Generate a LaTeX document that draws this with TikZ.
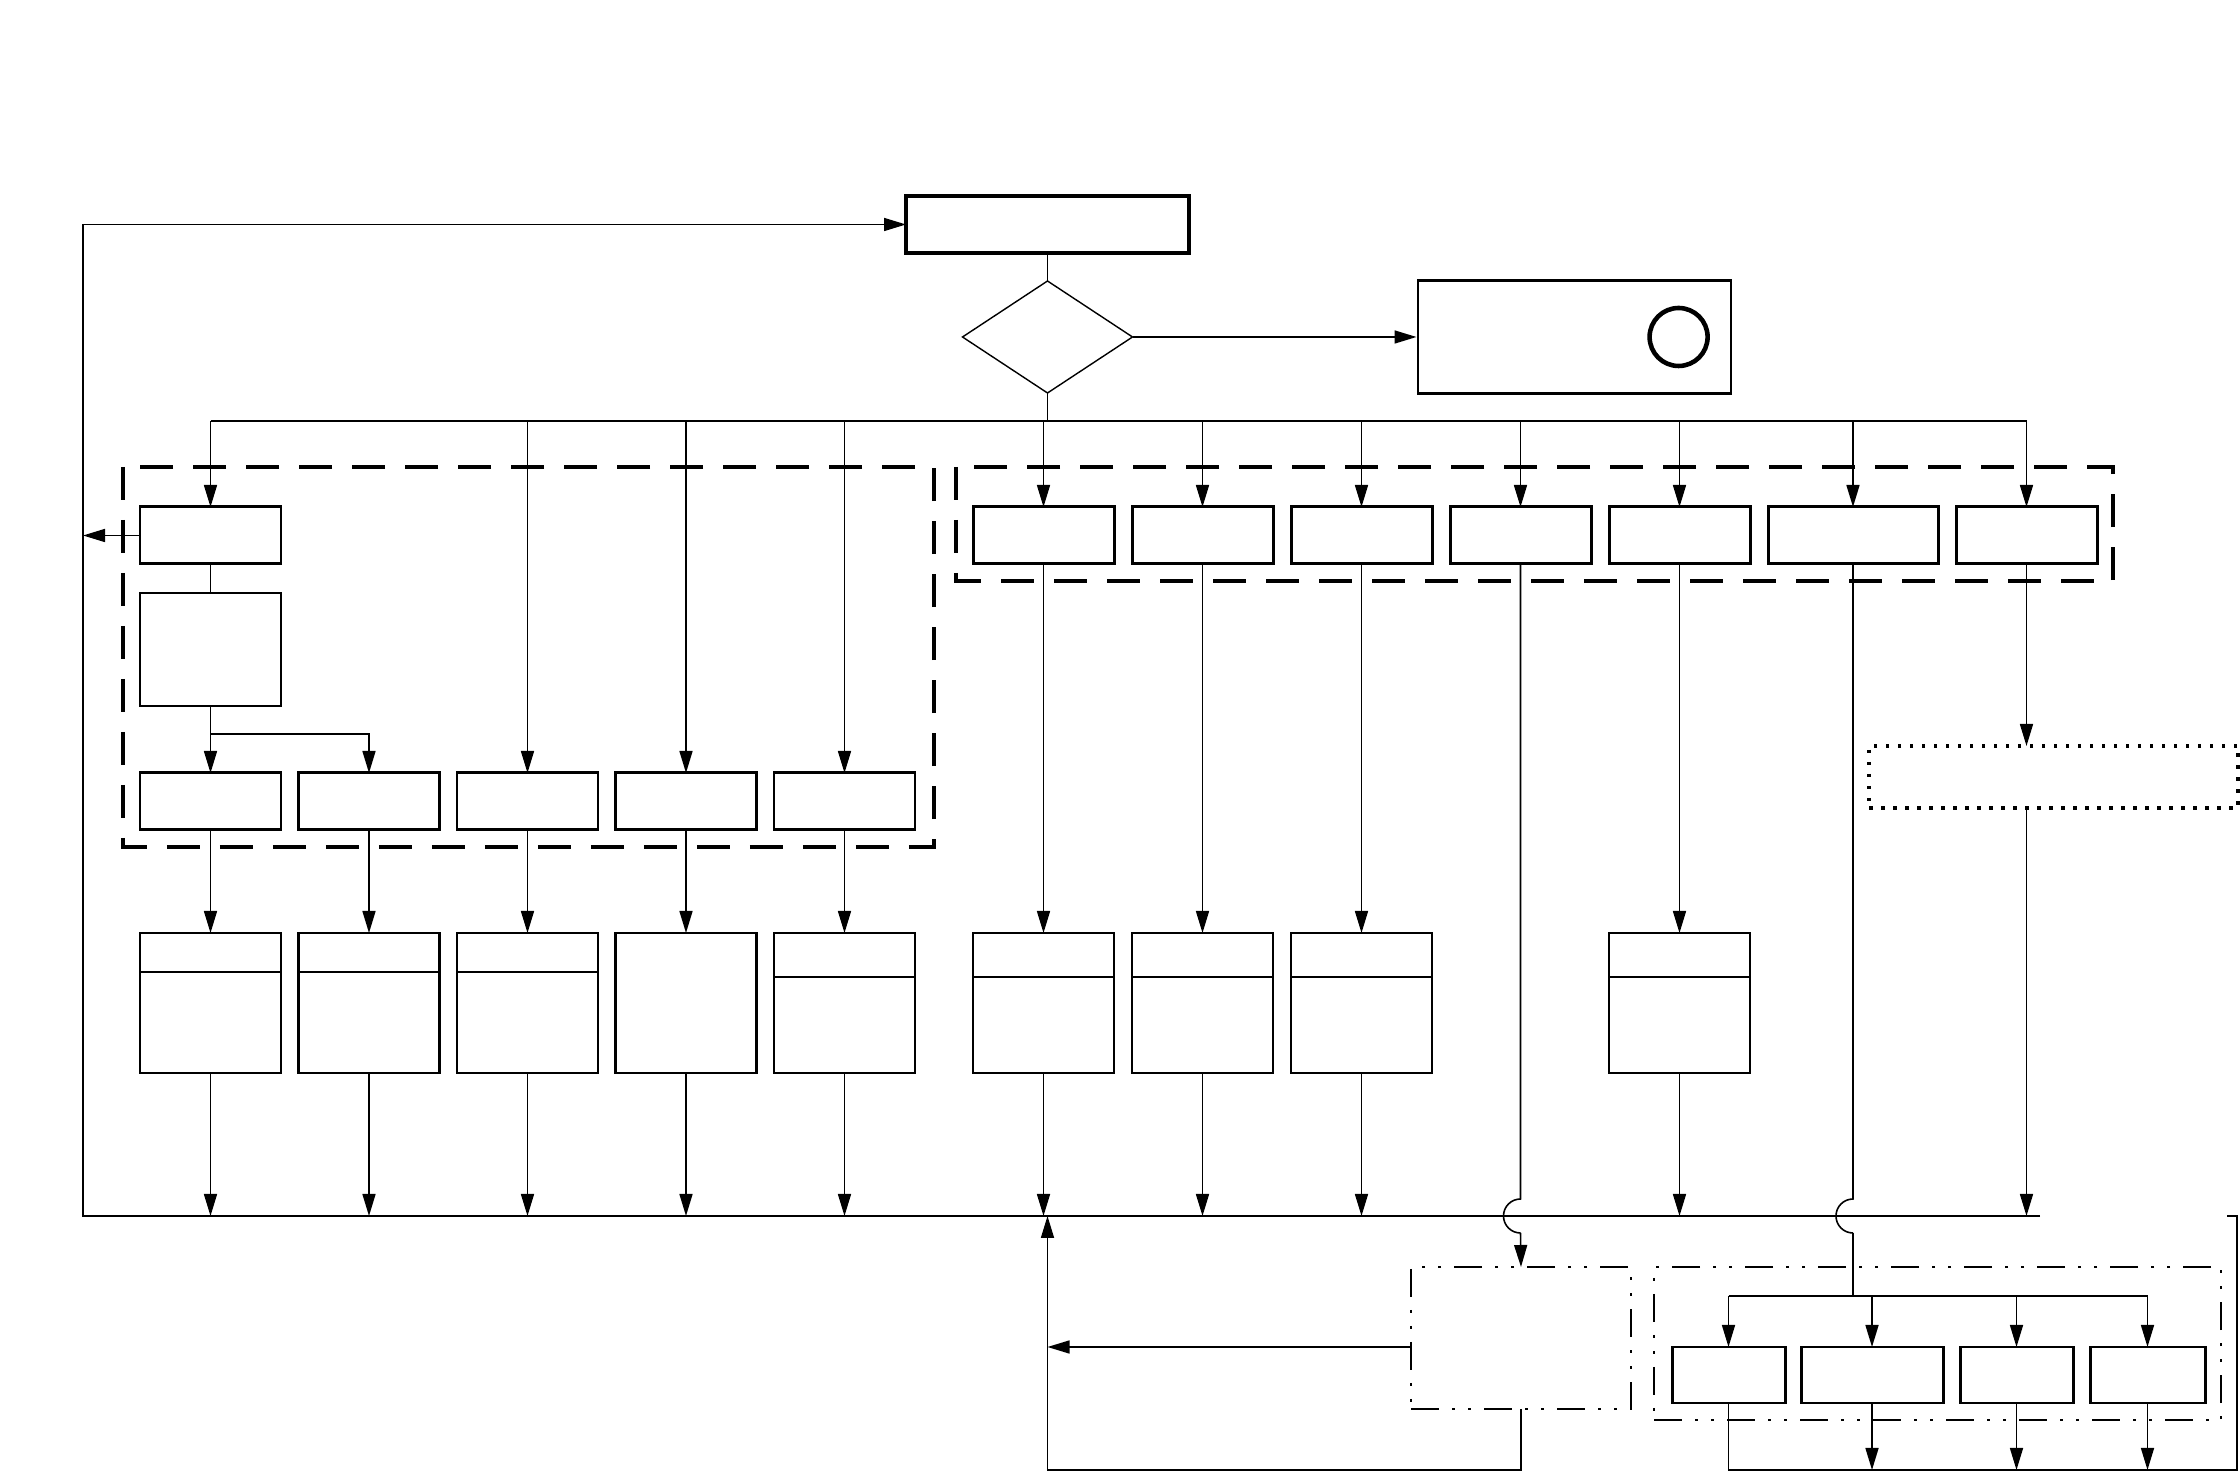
\documentclass[tikz,border=0pt]{standalone}
\usepackage{tikz}
\usetikzlibrary{shapes.geometric, arrows.meta, positioning, calc}
\tikzstyle{block}=[rectangle, draw, line width=0.85pt, minimum width=14.1mm,
  minimum height=5.7mm, inner sep=0pt, outer sep=0pt]
\tikzstyle{splitbox}=[rectangle, draw, line width=0.6pt, minimum width=14.1mm,
  minimum height=14mm, inner sep=0pt, outer sep=0pt]
\tikzstyle{decision}=[diamond, draw, line width=0.4pt, minimum width=17mm,
  minimum height=11.2mm, inner sep=0pt, outer sep=0pt]
\tikzstyle{arrow}=[-{Triangle[length=2.2mm, width=1.3mm]}, line width=0.45pt]
\tikzstyle{conn}=[line width=0.45pt]
\tikzstyle{groupdash}=[line width=1.4pt, dash pattern=on 3.3mm off 2mm]
\tikzstyle{groupdot}=[rectangle, draw, line width=1.2pt, dash pattern=on 0.35mm off 0.85mm,
  inner sep=0pt, outer sep=0pt]
\tikzstyle{groupdashdot}=[rectangle, draw, line width=0.5pt,
  dash pattern=on 2.8mm off 1.3mm on 0.3mm off 1.3mm on 0.3mm off 1.3mm,
  inner sep=0pt, outer sep=0pt]

\begin{document}
\begin{tikzpicture}[x=0.1mm, y=-0.1mm]
  \useasboundingbox (0,0) rectangle (2240,1472);
  % head
  \node[block, line width=1.3pt, minimum width=28.3mm] (entry) at (1047.5,224.5) {};
  \node[decision, below=2.8mm of entry] (check) {};
  \node[rectangle, draw, line width=0.6pt, minimum width=31.3mm, minimum height=11.3mm,
    inner sep=0pt, right=28.4mm of check] (alarm) {};
  \node[circle, draw, line width=1.3pt, minimum size=5.8mm, inner sep=0pt]
    (ring) at ([xshift=-5.3mm]alarm.east) {};
  \coordinate (split) at (1047.5,421);
  \coordinate (busL) at (83,1216);
  \coordinate (busR) at (2040,1216);
  \coordinate (botR) at (2237,1470);
  \coordinate (stub) at (2227,1216);

  % left group
  \node[block] (l1) at (210.5,535.5) {};
  \node[splitbox, line width=0.5pt, minimum height=11.3mm, below=2.9mm of l1] (l2) {};
  \node[block, below=6.7mm of l2] (a1) {};
  \node[block, right=1.75mm of a1] (a2) {};
  \node[block, right=1.75mm of a2] (a3) {};
  \node[block, right=1.75mm of a3] (a4) {};
  \node[block, right=1.75mm of a4] (a5) {};
  \node[splitbox, below=10.3mm of a1] (b1) {};
  \node[splitbox, below=10.3mm of a2] (b2) {};
  \node[splitbox, below=10.3mm of a3] (b3) {};
  \node[splitbox, below=10.3mm of a4] (b4) {};
  \node[splitbox, below=10.3mm of a5] (b5) {};
  \draw[groupdash] (123,467) rectangle (934,847);

  % right group
  \node[block] (r1) at (1043.5,535.5) {};
  \node[block, right=1.8mm of r1] (r2) {};
  \node[block, right=1.8mm of r2] (r3) {};
  \node[block, right=1.8mm of r3] (r4) {};
  \node[block, right=1.8mm of r4] (r5) {};
  \node[block, minimum width=17mm, right=1.8mm of r5] (r6) {};
  \node[block, right=1.8mm of r6] (r7) {};
  \node[splitbox, below=36.9mm of r1] (c1) {};
  \node[splitbox, below=36.9mm of r2] (c2) {};
  \node[splitbox, below=36.9mm of r3] (c3) {};
  \node[splitbox, below=36.9mm of r5] (c5) {};
  \draw[groupdash] (956,467) rectangle (2113,581);
  \node[groupdot, minimum width=36.9mm, minimum height=6.2mm] (hold) at (2053.5,777) {};

  % lower right
  \node[groupdashdot, minimum width=22mm, minimum height=14.2mm] (relay) at (1521,1338) {};
  \node[groupdashdot, minimum width=56.7mm, minimum height=15.3mm] (fanbox) at (1937.5,1343.5) {};
  \node[block, minimum width=11.3mm, minimum height=5.6mm] (d1) at (1728.5,1375) {};
  \node[block, minimum width=14.2mm, minimum height=5.6mm, right=1.6mm of d1] (d2) {};
  \node[block, minimum width=11.3mm, minimum height=5.6mm, right=1.7mm of d2] (d3) {};
  \node[block, minimum width=11.5mm, minimum height=5.6mm, right=1.7mm of d3] (d4) {};
  \coordinate (fan) at (r6.south |- {0,1296});

  % split lines
  \foreach \n/\h in {b1/39, b2/39, b3/39, b5/44, c1/44, c2/44, c3/44, c5/44}
    \draw[line width=0.6pt] ($(\n.north west)+(0,\h)$) -- ($(\n.north east)+(0,\h)$);

  % connectors
  \draw[conn] (entry) -- (check);
  \draw[arrow] (check.east) -- (alarm.west);
  \draw[conn] (check.south) -- (split);
  \draw[conn] (l1.north |- split) -- (r7.north |- split);
  \foreach \n in {l1,a3,a4,a5,r1,r2,r3,r4,r5,r6,r7}
    \draw[arrow] (\n.north |- split) -- (\n.north);
  \draw[conn] (l1) -- (l2);
  \draw[arrow] (l2.south) -- (a1.north);
  \draw[arrow] ($(l2.south)+(0,28)$) -| (a2.north);
  \foreach \n in {1,...,5}
    \draw[arrow] (a\n.south) -- (b\n.north);
  \foreach \n in {1,2,3,5}
    \draw[arrow] (r\n.south) -- (c\n.north);
  \foreach \n in {b1,b2,b3,b4,b5,c1,c2,c3,c5}
    \draw[arrow] (\n.south) -- (\n.south |- busL);
  \draw[arrow] (r7.south) -- (r7.south |- hold.north);
  \draw[arrow] (r7.south |- hold.south) -- (r7.south |- busL);
  \draw[arrow] (l1.west) -- (busL |- l1.west);
  \draw[arrow] (busR) -- (busL) |- (entry.west);

  % jumps over the return line
  \draw[conn] (r4.south) -- ($(r4.south |- busL)+(0,-17)$)
    arc[start angle=90, end angle=270, radius=1.7mm];
  \draw[arrow] ($(r4.south |- busL)+(0,17)$) -- (relay.north);
  \draw[conn] (r6.south) -- ($(r6.south |- busL)+(0,-17)$)
    arc[start angle=90, end angle=270, radius=1.7mm];
  \draw[conn] ($(r6.south |- busL)+(0,17)$) -- (fan);
  \draw[conn] (d1.north |- fan) -- (d4.north |- fan);
  \foreach \n in {1,...,4}
    \draw[arrow] (d\n.north |- fan) -- (d\n.north);

  % returns
  \draw[arrow] ($(relay.west)+(0,9)$) -- ($(check.south |- relay.west)+(0,9)$);
  \draw[arrow] (relay.south) -- (relay.south |- botR) -| (check.south |- busL);
  \draw[conn] (d1.south) -- (d1.south |- botR) -- (botR) -- (botR |- stub) -- (stub);
  \foreach \n in {2,3,4}
    \draw[arrow] (d\n.south) -- (d\n.south |- botR);
\end{tikzpicture}
\end{document}
